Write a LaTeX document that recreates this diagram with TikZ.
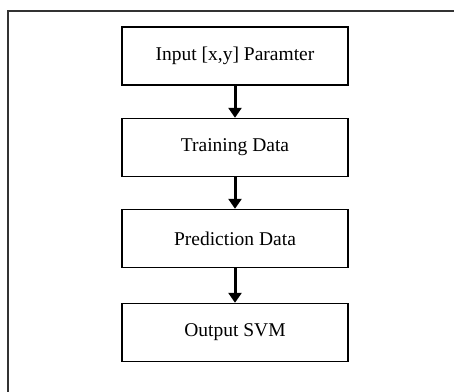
\documentclass[tikz,border=0pt]{standalone}
\usepackage{fontspec}
\setmainfont{Liberation Serif}
\usetikzlibrary{arrows.meta}
\begin{document}
\begin{tikzpicture}[x=1pt,y=-1pt,
  stepbox/.style={draw=black,line width=1.4pt,minimum width=226pt,minimum height=58pt,inner sep=0pt,font=\fontsize{19.5}{22}\selectfont},
  flow/.style={line width=3pt,-{Triangle[width=13pt,length=10pt]}}]
\useasboundingbox (0,0) rectangle (454,391);
\begin{scope}
\clip (0,0) rectangle (454,391);
\draw[line width=2pt,draw=black!80] (7.5,400) -- (7.5,10.5) -- (470,10.5);
\end{scope}
\node[stepbox] (a) at (235,56) {Input [x,y] Paramter};
\node[stepbox] (b) at (235,147.5) {Training Data};
\node[stepbox] (c) at (235,238.5) {Prediction Data};
\node[stepbox] (d) at (235,332.5) {Output SVM};
\draw[flow] (a) -- (b);
\draw[flow] (b) -- (c);
\draw[flow] (c) -- (d);
\end{tikzpicture}
\end{document}
